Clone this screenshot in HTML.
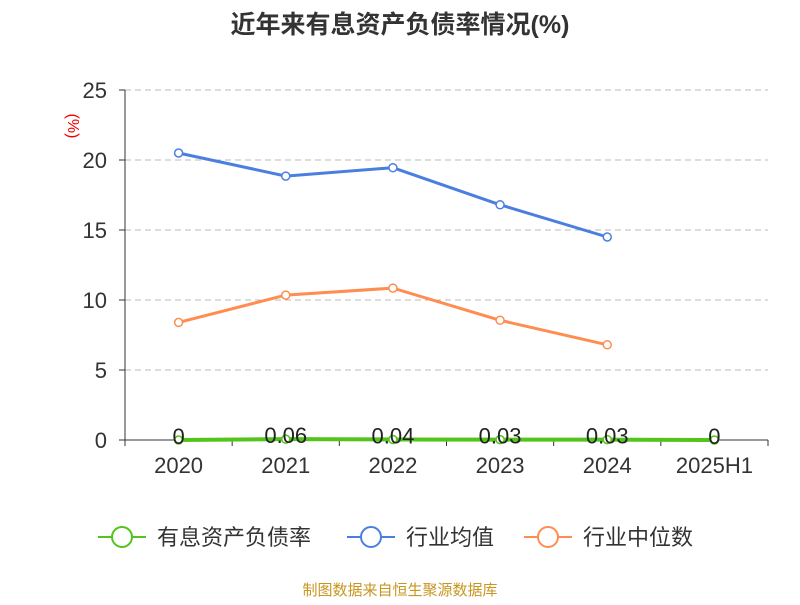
<!DOCTYPE html>
<html><head><meta charset="utf-8"><style>
body{margin:0;background:#fff;}
svg text{font-family:"Liberation Sans","Noto Sans CJK SC",sans-serif;}
</style></head><body>
<svg id="chart" width="800" height="600">
<text x="400" y="33" text-anchor="middle" font-size="25" font-weight="bold" fill="#333">近年来有息资产负债率情况(%)</text>
<text x="68" y="126" text-anchor="middle" font-size="16" fill="#e00" transform="rotate(90 68 126)">(%)</text>
<g id="grid"></g><g id="axes"></g><g id="series"></g>
<g>
<g><line x1="98" y1="537" x2="146" y2="537" stroke="#52c41a" stroke-width="2"/><circle cx="122" cy="537" r="10" fill="#fff" stroke="#52c41a" stroke-width="2"/><text x="157" y="545" font-size="22" fill="#333">有息资产负债率</text></g>
<g><line x1="347" y1="537" x2="395" y2="537" stroke="#4a7fe0" stroke-width="2"/><circle cx="371" cy="537" r="10" fill="#fff" stroke="#4a7fe0" stroke-width="2"/><text x="406" y="545" font-size="22" fill="#333">行业均值</text></g>
<g><line x1="524" y1="537" x2="572" y2="537" stroke="#ff8c50" stroke-width="2"/><circle cx="548" cy="537" r="10" fill="#fff" stroke="#ff8c50" stroke-width="2"/><text x="583" y="545" font-size="22" fill="#333">行业中位数</text></g>
</g>
<text x="400" y="595" text-anchor="middle" font-size="15" fill="#c8961e">制图数据来自恒生聚源数据库</text>
</svg>
<script>
const categories=["2020","2021","2022","2023","2024","2025H1"];
const companyValues=[0,0.06,0.04,0.03,0.03,0];
const companyLabels=["0","0.06","0.04","0.03","0.03","0"];
const avgValues=[20.5,18.85,19.45,16.8,14.5];
const medianValues=[8.4,10.35,10.85,8.55,6.8];
const yTicks=[0,5,10,15,20,25];
const NS="http://www.w3.org/2000/svg";
const x0=125,x1=768,y0=440,yTop=90,yMax=25;
const bw=(x1-x0)/categories.length;
const xs=i=>x0+bw*(i+0.5);
const ys=v=>y0-(v/yMax)*(y0-yTop);
function mk(tag,attrs,parent){const e=document.createElementNS(NS,tag);for(const k in attrs)e.setAttribute(k,attrs[k]);parent.appendChild(e);return e;}
const grid=document.getElementById('grid'),axes=document.getElementById('axes'),ser=document.getElementById('series');
yTicks.forEach(t=>{
 if(t>0){const l=mk('line',{x1:x0,x2:x1,y1:ys(t),y2:ys(t),stroke:'#bbb','stroke-dasharray':'6,4'},grid);
 
 }
 mk('line',{x1:x0-6,x2:x0,y1:ys(t),y2:ys(t),stroke:'#333'},axes);
 const tx=mk('text',{x:x0-18,y:ys(t)+8,'text-anchor':'end','font-size':22,fill:'#333'},axes);tx.textContent=t;
 
 
});
mk('line',{x1:x0,x2:x0,y1:yTop,y2:y0,stroke:'#333'},axes);
mk('line',{x1:x0,x2:x1,y1:y0,y2:y0,stroke:'#333'},axes);
for(let i=0;i<=categories.length;i++)mk('line',{x1:x0+bw*i,x2:x0+bw*i,y1:y0,y2:y0+6,stroke:'#333'},axes);
categories.forEach((c,i)=>{const t=mk('text',{x:xs(i),y:y0+33,'text-anchor':'middle','font-size':22,fill:'#333'},axes);t.textContent=c;
 
 });
function series(vals,color,name,w){
 const p=mk('polyline',{points:vals.map((v,i)=>xs(i)+','+ys(v)).join(' '),fill:'none',stroke:color,'stroke-width':w},ser);
 
 
 vals.forEach((v,i)=>{const c=mk('circle',{cx:xs(i),cy:ys(v),r:4,fill:'#fff',stroke:color,'stroke-width':1.5},ser);
 
 });
}
series(avgValues,'#4a7fe0','industry-avg',3);
series(medianValues,'#ff8c50','industry-median',3);
series(companyValues,'#52c41a','company',4);
companyValues.forEach((v,i)=>{const t=mk('text',{x:xs(i),y:ys(v)+4,'text-anchor':'middle','font-size':22,fill:'#222'},ser);t.textContent=companyLabels[i];
 
 });
</script>
</body></html>
